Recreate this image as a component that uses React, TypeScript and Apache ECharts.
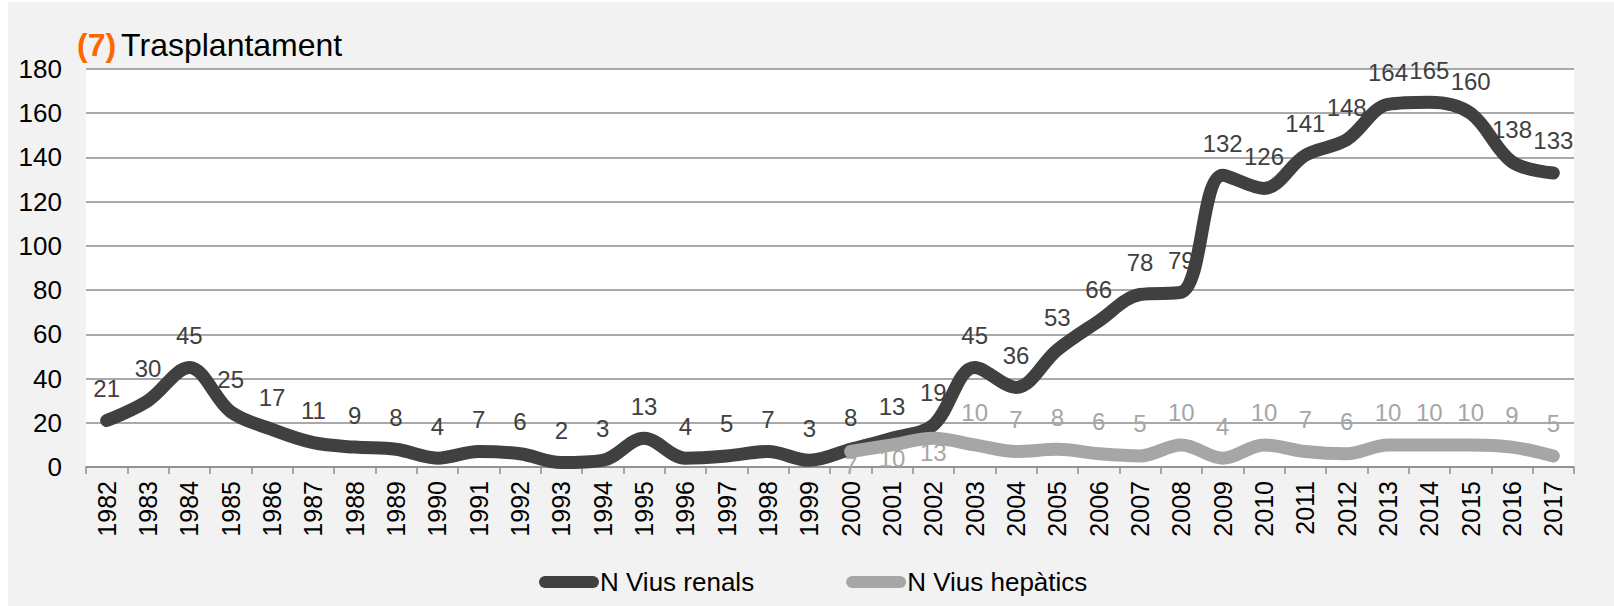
import React, { useEffect, useRef } from "react";
import * as echarts from "echarts";

const years: string[] = [
  "1982","1983","1984","1985","1986","1987","1988","1989","1990","1991","1992","1993",
  "1994","1995","1996","1997","1998","1999","2000","2001","2002","2003","2004","2005",
  "2006","2007","2008","2009","2010","2011","2012","2013","2014","2015","2016","2017",
];
const renals: number[] = [
  21, 30, 45, 25, 17, 11, 9, 8, 4, 7, 6, 2, 3, 13, 4, 5, 7, 3, 8, 13, 19, 45, 36, 53,
  66, 78, 79, 132, 126, 141, 148, 164, 165, 160, 138, 133,
];
const hepaticsStartYear = "2000";
const hepatics: number[] = [7, 10, 13, 10, 7, 8, 6, 5, 10, 4, 10, 7, 6, 10, 10, 10, 9, 5];
const hepaticsLabelBelow: string[] = ["2000", "2001", "2002"];
const yTicks = { min: 0, max: 180, interval: 20 };
const seriesNames = ["N Vius renals", "N Vius hepàtics"];

const FONT = "'Liberation Sans', Arial, Helvetica, sans-serif";
const DARK = "#404040";
const LIGHT = "#a6a6a6";

export default function App() {
  const ref = useRef<HTMLDivElement>(null);
  useEffect(() => {
    if (!ref.current) return;
    const chart = echarts.init(ref.current, undefined, { renderer: "svg" });
    const start = years.indexOf(hepaticsStartYear);
    const hepData = years.map((y, i) => {
      if (i < start) return "-";
      const v = hepatics[i - start];
      if (hepaticsLabelBelow.includes(y)) {
        return { value: v, label: { position: "bottom", distance: 2 } };
      }
      return v;
    });
    const legendIcon =
      "path://M6,0 L54,0 A6,6 0 0 1 54,12 L6,12 A6,6 0 0 1 6,0 Z";
    const commonLabel = {
      show: true,
      position: "top",
      distance: 20,
      fontSize: 24,
      fontFamily: FONT,
    };
    chart.setOption({
      animation: false,
      backgroundColor: "#f2f2f2",
      textStyle: { fontFamily: FONT },
      title: {
        left: 69,
        top: 27,
        padding: 0,
        text: "{a|(7)} {b|Trasplantament}",
        textStyle: {
          fontWeight: "normal",
          rich: {
            a: { fontSize: 32, fontWeight: "bold", color: "#ff6600", fontFamily: FONT },
            b: { fontSize: 32, fontWeight: "normal", color: "#000", fontFamily: FONT },
          },
        },
      },
      legend: {
        left: 526,
        top: 562,
        itemWidth: 60,
        itemHeight: 12,
        itemGap: 92,
        icon: legendIcon,
        textStyle: { fontSize: 26, color: "#000", fontFamily: FONT, padding: [0, 0, 0, -4] },
        data: seriesNames,
      },
      grid: {
        left: 78,
        right: 40,
        top: 67,
        bottom: 139,
        show: true,
        backgroundColor: "#ffffff",
        borderWidth: 0,
      },
      xAxis: {
        type: "category",
        data: years,
        boundaryGap: true,
        axisLine: { show: true, lineStyle: { color: "#8c8c8c", width: 1.5 } },
        axisTick: { show: true, length: 7, alignWithLabel: false, lineStyle: { color: "#8c8c8c", width: 1.5 } },
        axisLabel: { rotate: 90, fontSize: 25, color: "#000", margin: 14, fontFamily: FONT, interval: 0 },
        splitLine: { show: false },
      },
      yAxis: {
        type: "value",
        min: yTicks.min,
        max: yTicks.max,
        interval: yTicks.interval,
        axisLine: { show: false },
        axisTick: { show: false },
        axisLabel: { fontSize: 26, color: "#000", margin: 24, fontFamily: FONT },
        splitLine: { show: true, lineStyle: { color: "#8c8c8c", width: 1.5 } },
      },
      series: [
        {
          name: seriesNames[0],
          type: "line",
          data: renals,
          smooth: 0.35,
          showSymbol: true,
          symbol: "circle",
          symbolSize: 0,
          color: DARK,
          lineStyle: { color: DARK, width: 13, cap: "round", join: "round" },
          label: { ...commonLabel, color: DARK },
          labelLayout: { hideOverlap: false },
        },
        {
          name: seriesNames[1],
          type: "line",
          data: hepData,
          smooth: 0.35,
          showSymbol: true,
          symbol: "circle",
          symbolSize: 0,
          color: LIGHT,
          lineStyle: { color: LIGHT, width: 13, cap: "round", join: "round" },
          label: { ...commonLabel, color: LIGHT },
          labelLayout: { hideOverlap: false },
        },
      ],
    });
    return () => chart.dispose();
  }, []);
  return (
    <div style={{ position: "absolute", left: 0, top: 0, width: 1614, height: 606, background: "#fff" }}>
      <div ref={ref} style={{ position: "absolute", left: 8, top: 2, width: 1606, height: 604 }} />
    </div>
  );
}
